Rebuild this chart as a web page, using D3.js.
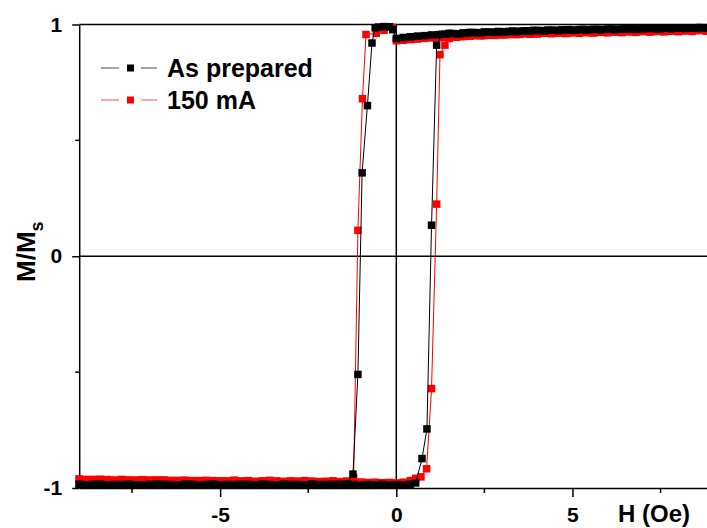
<!DOCTYPE html>
<html>
<head>
<meta charset="utf-8">
<script src="https://cdn.jsdelivr.net/npm/d3@7"></script>
<style>
  html, body { margin: 0; padding: 0; background: #fff; }
  svg { display: block; }
  text { font-family: "Liberation Sans", Arial, sans-serif; font-weight: bold; fill: #000; }
</style>
</head>
<body>
<svg id="chart" width="707" height="528"></svg>
<script>
// ---------------- DATA ----------------
const seriesNames = ["As prepared", "150 mA"];
const xTickValues = [-5, 0, 5];
const xMinorTicks = [-7.5, -2.5, 2.5, 7.5];
const yTickValues = [-1, 0, 1];
const yMinorTicks = [-0.5, 0.5];
const xTitle = "H (Oe)";

// As prepared, descending branch (H from +9 to -9)
const blackDescH = [9.0,8.8,8.6,8.4,8.2,8.0,7.8,7.6,7.4,7.2,7.0,6.8,6.6,6.4,6.2,6.0,5.8,5.6,5.4,5.2,5.0,4.8,4.6,4.4,4.2,4.0,3.8,3.6,3.4,3.2,3.0,2.8,2.6,2.4,2.2,2.0,1.8,1.6,1.4,1.2,1.0,0.8,0.6,0.4,0.2,0.0,
  -0.1,-0.2,-0.35,-0.5,-0.6,-0.69,-0.82,-0.97,-1.09,-1.23,
  -1.4,-1.6,-1.8,-2.0,-2.2,-2.4,-2.6,-2.8,-3.0,-3.2,-3.4,-3.6,-3.8,-4.0,-4.2,-4.4,-4.6,-4.8,-5.0,-5.2,-5.4,-5.6,-5.8,-6.0,-6.2,-6.4,-6.6,-6.8,-7.0,-7.2,-7.4,-7.6,-7.8,-8.0,-8.2,-8.4,-8.6,-8.8,-9.0];
const blackDescM = [0.986,0.984,0.987,0.985,0.983,0.985,0.982,0.984,0.981,0.983,0.982,0.979,0.981,0.980,0.978,0.980,0.977,0.979,0.976,0.978,0.975,0.977,0.974,0.975,0.972,0.974,0.971,0.972,0.969,0.970,0.968,0.966,0.967,0.964,0.965,0.962,0.960,0.961,0.958,0.956,0.955,0.952,0.950,0.947,0.944,0.940,
  0.978,0.990,0.991,0.989,0.986,0.92,0.65,0.36,-0.51,-0.94,
  -0.982,-0.986,-0.984,-0.987,-0.985,-0.983,-0.986,-0.988,-0.985,-0.984,-0.987,-0.985,-0.983,-0.986,-0.988,-0.984,-0.986,-0.985,-0.987,-0.984,-0.986,-0.988,-0.985,-0.983,-0.986,-0.987,-0.984,-0.986,-0.985,-0.988,-0.986,-0.984,-0.987,-0.985,-0.986,-0.988,-0.984,-0.986,-0.985];

// As prepared, ascending branch (H from -9 to +9)
const blackAscH = [-9.0,-8.8,-8.6,-8.4,-8.2,-8.0,-7.8,-7.6,-7.4,-7.2,-7.0,-6.8,-6.6,-6.4,-6.2,-6.0,-5.8,-5.6,-5.4,-5.2,-5.0,-4.8,-4.6,-4.4,-4.2,-4.0,-3.8,-3.6,-3.4,-3.2,-3.0,-2.8,-2.6,-2.4,-2.2,-2.0,-1.8,-1.6,-1.4,-1.2,-1.0,-0.8,-0.6,-0.4,-0.2,0.0,
  0.2,0.4,0.55,0.73,0.87,1.0,1.145,
  1.3,1.5,1.7,1.9,2.1,2.3,2.5,2.7,2.9,3.1,3.3,3.5,3.7,3.9,4.1,4.3,4.5,4.7,4.9,5.1,5.3,5.5,5.7,5.9,6.1,6.3,6.5,6.7,6.9,7.1,7.3,7.5,7.7,7.9,8.1,8.3,8.5,8.7,8.9];
const blackAscM = [-0.984,-0.987,-0.985,-0.983,-0.986,-0.988,-0.985,-0.984,-0.986,-0.987,-0.985,-0.983,-0.986,-0.985,-0.988,-0.986,-0.984,-0.987,-0.985,-0.983,-0.986,-0.988,-0.985,-0.986,-0.984,-0.987,-0.985,-0.986,-0.988,-0.984,-0.986,-0.985,-0.987,-0.983,-0.986,-0.985,-0.987,-0.984,-0.986,-0.985,-0.988,-0.985,-0.986,-0.984,-0.987,-0.985,
  -0.986,-0.984,-0.978,-0.873,-0.745,0.134,0.911,
  0.958,0.962,0.960,0.964,0.966,0.965,0.968,0.967,0.970,0.969,0.972,0.971,0.973,0.975,0.974,0.976,0.975,0.977,0.978,0.976,0.979,0.978,0.980,0.979,0.981,0.980,0.982,0.983,0.981,0.983,0.984,0.982,0.985,0.984,0.986,0.985,0.984,0.986,0.987];

// 150 mA, descending branch
const redDescH = [9.0,8.8,8.6,8.4,8.2,8.0,7.8,7.6,7.4,7.2,7.0,6.8,6.6,6.4,6.2,6.0,5.8,5.6,5.4,5.2,5.0,4.8,4.6,4.4,4.2,4.0,3.8,3.6,3.4,3.2,3.0,2.8,2.6,2.4,2.2,2.0,1.8,1.6,1.4,1.2,1.0,0.8,0.6,0.4,0.2,0.0,
  -0.12,-0.35,-0.57,-0.86,-0.96,-1.09,-1.21,
  -1.4,-1.6,-1.8,-2.0,-2.2,-2.4,-2.6,-2.8,-3.0,-3.2,-3.4,-3.6,-3.8,-4.0,-4.2,-4.4,-4.6,-4.8,-5.0,-5.2,-5.4,-5.6,-5.8,-6.0,-6.2,-6.4,-6.6,-6.8,-7.0,-7.2,-7.4,-7.6,-7.8,-8.0,-8.2,-8.4,-8.6,-8.8,-9.0];
const redDescM = [0.973,0.971,0.974,0.970,0.972,0.969,0.971,0.968,0.970,0.967,0.969,0.966,0.968,0.965,0.967,0.964,0.966,0.963,0.965,0.962,0.964,0.961,0.963,0.960,0.962,0.959,0.958,0.960,0.956,0.957,0.955,0.953,0.954,0.951,0.952,0.949,0.948,0.946,0.945,0.943,0.942,0.940,0.937,0.935,0.932,0.930,
  0.988,0.975,0.962,0.957,0.68,0.112,-0.955,
  -0.970,-0.972,-0.969,-0.971,-0.973,-0.970,-0.968,-0.971,-0.969,-0.972,-0.970,-0.967,-0.969,-0.971,-0.968,-0.970,-0.966,-0.969,-0.971,-0.968,-0.967,-0.970,-0.968,-0.966,-0.969,-0.967,-0.965,-0.968,-0.966,-0.964,-0.967,-0.965,-0.963,-0.966,-0.964,-0.962,-0.965,-0.963,-0.961];

// 150 mA, ascending branch
const redAscH = [-9.0,-8.8,-8.6,-8.4,-8.2,-8.0,-7.8,-7.6,-7.4,-7.2,-7.0,-6.8,-6.6,-6.4,-6.2,-6.0,-5.8,-5.6,-5.4,-5.2,-5.0,-4.8,-4.6,-4.4,-4.2,-4.0,-3.8,-3.6,-3.4,-3.2,-3.0,-2.8,-2.6,-2.4,-2.2,-2.0,-1.8,-1.6,-1.4,-1.2,-1.0,-0.8,-0.6,-0.4,-0.2,0.0,
  0.2,0.4,0.55,0.7,0.86,1.0,1.145,1.24,1.38,
  1.5,1.7,1.9,2.1,2.3,2.5,2.7,2.9,3.1,3.3,3.5,3.7,3.9,4.1,4.3,4.5,4.7,4.9,5.1,5.3,5.5,5.7,5.9,6.1,6.3,6.5,6.7,6.9,7.1,7.3,7.5,7.7,7.9,8.1,8.3,8.5,8.7,8.9];
const redAscM = [-0.962,-0.965,-0.963,-0.966,-0.964,-0.967,-0.965,-0.968,-0.966,-0.969,-0.967,-0.965,-0.968,-0.970,-0.967,-0.969,-0.971,-0.968,-0.970,-0.972,-0.969,-0.971,-0.973,-0.970,-0.972,-0.974,-0.971,-0.973,-0.970,-0.972,-0.974,-0.971,-0.973,-0.975,-0.972,-0.974,-0.976,-0.973,-0.975,-0.977,-0.974,-0.976,-0.975,-0.977,-0.976,-0.978,
  -0.975,-0.968,-0.958,-0.952,-0.917,-0.571,0.225,0.87,0.911,
  0.940,0.945,0.948,0.950,0.953,0.952,0.955,0.957,0.956,0.959,0.958,0.961,0.960,0.962,0.964,0.963,0.965,0.964,0.966,0.967,0.965,0.968,0.967,0.969,0.968,0.970,0.969,0.971,0.972,0.970,0.973,0.972,0.974,0.973,0.975,0.974,0.976,0.975];

// ---------------- CHART ----------------
const svg = d3.select("#chart");
const x = d3.scaleLinear().domain([-9, 9]).range([79.2, 713.4]);
const y = d3.scaleLinear().domain([-1, 1]).range([488, 24.5]);

const toPts = (hs, ms) => hs.map((h, i) => ({ h: h, m: ms[i] }));
const series = [
  { name: seriesNames[1], color: "#ff0000", branches: [toPts(redDescH, redDescM), toPts(redAscH, redAscM)] },
  { name: seriesNames[0], color: "#000000", branches: [toPts(blackDescH, blackDescM), toPts(blackAscH, blackAscM)] }
];

// zero lines
svg.append("line").attr("x1", x(-9)).attr("x2", x(9)).attr("y1", y(0)).attr("y2", y(0))
  .attr("stroke", "#000").attr("stroke-width", 1.5);
svg.append("line").attr("x1", x(0)).attr("x2", x(0)).attr("y1", y(1)).attr("y2", y(-1))
  .attr("stroke", "#000").attr("stroke-width", 1.5);
// top frame
svg.append("line").attr("x1", x(-9)).attr("x2", x(9)).attr("y1", y(1)).attr("y2", y(1))
  .attr("stroke", "#000").attr("stroke-width", 1.5);

// axes
const xAxis = d3.axisBottom(x).tickValues(xTickValues).tickSize(9).tickSizeOuter(0).tickPadding(10)
  .tickFormat(d => d);
const gx = svg.append("g").attr("transform", `translate(0,${y(-1)})`).call(xAxis);
gx.selectAll("text").style("font-size", "21px");
gx.selectAll("path, line").attr("stroke", "#000").attr("stroke-width", 1.5);
gx.selectAll(".minor").data(xMinorTicks).enter().append("line")
  .attr("x1", d => x(d)).attr("x2", d => x(d)).attr("y1", 0).attr("y2", 5)
  .attr("stroke", "#000").attr("stroke-width", 1.5);

const yAxis = d3.axisLeft(y).tickValues(yTickValues).tickSize(7).tickSizeOuter(0).tickPadding(10)
  .tickFormat(d => d);
const gy = svg.append("g").attr("transform", `translate(${x(-9)},0)`).call(yAxis);
gy.selectAll("text").style("font-size", "21px");
gy.selectAll("path, line").attr("stroke", "#000").attr("stroke-width", 1.5);
gy.selectAll(".minor").data(yMinorTicks).enter().append("line")
  .attr("x1", -4).attr("x2", 0).attr("y1", d => y(d)).attr("y2", d => y(d))
  .attr("stroke", "#000").attr("stroke-width", 1.5);

// data
const line = d3.line().x(d => x(d.h)).y(d => y(d.m));
const ms = 7.5;
series.forEach(s => {
  const g = svg.append("g");
  s.branches.forEach(b => {
    g.append("path").datum(b).attr("d", line).attr("fill", "none")
      .attr("stroke", s.color).attr("stroke-width", 1);
  });
  s.branches.forEach(b => {
    g.selectAll(null).data(b).enter().append("rect")
      .attr("x", d => x(d.h) - ms / 2).attr("y", d => y(d.m) - ms / 2)
      .attr("width", ms).attr("height", ms).attr("fill", s.color);
  });
});

// axis titles
svg.append("text").attr("x", 618).attr("y", 522).style("font-size", "24px").text(xTitle);
const yt = svg.append("text").attr("transform", "rotate(-90)").attr("x", -282).attr("y", 35)
  .style("font-size", "26px");
yt.append("tspan").text("M/M");
yt.append("tspan").attr("dy", 8).style("font-size", "18px").text("s");

// legend
const legend = [
  { name: seriesNames[0], color: "#000000", y: 68 },
  { name: seriesNames[1], color: "#ff0000", y: 100 }
];
legend.forEach(l => {
  const g = svg.append("g");
  g.append("line").attr("x1", 101).attr("x2", 119).attr("y1", l.y).attr("y2", l.y)
    .attr("stroke", l.color).attr("stroke-width", 1).attr("opacity", 0.7);
  g.append("line").attr("x1", 141).attr("x2", 157).attr("y1", l.y).attr("y2", l.y)
    .attr("stroke", l.color).attr("stroke-width", 1).attr("opacity", 0.7);
  g.append("rect").attr("x", 127).attr("y", l.y - 3.5).attr("width", 7).attr("height", 7).attr("fill", l.color);
  g.append("text").attr("x", 167).attr("y", l.y + 8.5).style("font-size", "25px").text(l.name);
});
</script>
</body>
</html>
